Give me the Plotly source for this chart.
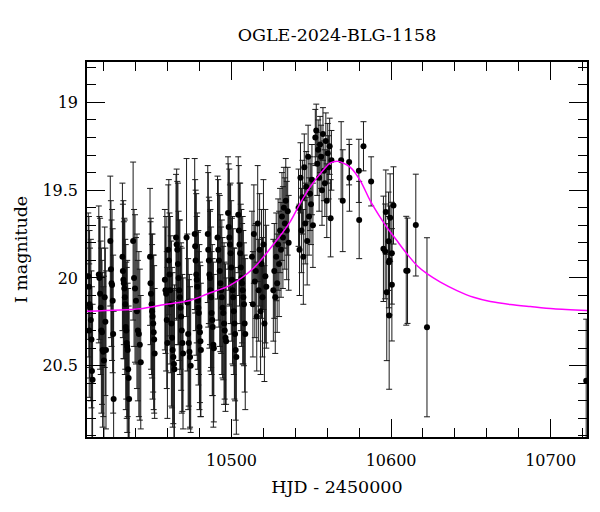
import plotly.graph_objects as go

# ---- observations (HJD - 2450000, I mag, error) ----
hjd_base = [10410.2, 10410.6, 10411.0, 10411.3, 10411.8, 10412.2, 10412.5, 10412.9, 10410.8,
            10416.8, 10417.2, 10417.6, 10418.0, 10418.4, 10418.8, 10419.2, 10419.6, 10420.0, 10420.5, 10420.9, 10421.3,
            10424.0, 10424.4, 10424.8, 10425.1, 10425.5, 10425.8, 10426.1,
            10431.6, 10431.9, 10432.2, 10432.5, 10432.8, 10433.1, 10433.4, 10433.7, 10434.0, 10434.3, 10434.6, 10434.9, 10435.2, 10435.5, 10435.8,
            10438.3, 10438.9, 10439.5, 10440.1, 10440.7, 10441.3, 10441.9, 10442.5, 10443.1,
            10448.9, 10449.2, 10449.5, 10449.9, 10450.2, 10450.5, 10450.9, 10451.2, 10451.5, 10451.8]
mag_base = [19.99, 20.05, 20.15, 20.17, 20.24, 20.35, 20.53, 20.58, 20.30,
            19.98, 20.00, 20.09, 20.17, 20.30, 20.31, 20.41, 20.42, 20.47, 20.11, 20.25, 20.41,
            19.79, 19.95, 20.03, 20.04, 20.13, 20.32, 20.69,
            19.88, 19.96, 20.01, 20.03, 20.06, 20.11, 20.15, 20.28, 20.30, 20.37, 20.39, 20.41, 20.52, 20.57, 20.69,
            19.79, 20.00, 20.06, 20.13, 20.19, 20.30, 20.32, 20.38, 20.48,
            19.88, 20.03, 20.09, 20.15, 20.19, 20.22, 20.26, 20.31, 20.35, 20.43]
err_base = [0.36, 0.40, 0.42, 0.34, 0.46, 0.39, 0.48, 0.43, 0.38,
            0.39, 0.35, 0.43, 0.38, 0.47, 0.41, 0.44, 0.37, 0.48, 0.40, 0.42, 0.45,
            0.37, 0.39, 0.36, 0.43, 0.41, 0.45, 0.50,
            0.42, 0.38, 0.45, 0.35, 0.40, 0.44, 0.37, 0.47, 0.39, 0.43, 0.49, 0.38, 0.46, 0.41, 0.50,
            0.45, 0.39, 0.42, 0.36, 0.44, 0.40, 0.47, 0.43, 0.38,
            0.39, 0.35, 0.43, 0.40, 0.38, 0.47, 0.39, 0.44, 0.42, 0.37]

hjd_mid = [10458.2, 10458.6, 10459.0, 10459.4, 10459.8, 10460.3, 10460.7, 10461.1, 10461.5, 10461.9, 10462.3, 10462.7, 10463.1, 10463.5, 10463.9, 10464.2,
           10465.2, 10465.6, 10466.0, 10466.4, 10466.8, 10467.2, 10467.6, 10468.0, 10468.4, 10468.8, 10469.2, 10469.6,
           10471.8, 10472.3, 10472.8, 10473.2, 10473.6, 10474.0, 10474.4,
           10476.9, 10477.2, 10477.5, 10477.9, 10478.2, 10478.5, 10478.9, 10479.2, 10479.5, 10479.9, 10480.2, 10480.5, 10480.8,
           10485.1, 10485.4, 10485.8, 10486.1, 10486.5, 10486.8, 10487.2, 10487.5, 10487.9, 10488.2, 10488.6, 10488.9,
           10491.2, 10491.7, 10492.1, 10492.6, 10493.0, 10493.5, 10493.9, 10494.4, 10494.8, 10495.3, 10495.7, 10496.2, 10496.6,
           10497.8, 10498.2, 10498.6, 10499.0, 10499.4, 10499.8, 10500.2, 10500.6, 10501.0, 10501.4, 10501.8, 10502.2, 10502.6, 10503.0,
           10504.2, 10504.6, 10505.0, 10505.4, 10505.8, 10506.2, 10506.6, 10507.0, 10507.4, 10507.8, 10508.2, 10508.6]
mag_mid = [20.01, 20.07, 20.09, 20.24, 20.37, 19.84, 19.90, 19.98, 20.07, 20.15, 20.26, 20.34, 20.41, 20.45, 20.49, 20.52,
           19.77, 19.81, 19.84, 19.92, 20.00, 20.07, 20.11, 20.17, 20.22, 20.30, 20.37, 20.43,
           19.77, 20.14, 20.32, 20.37, 20.42, 20.45, 20.50,
           19.75, 19.82, 19.90, 19.98, 20.01, 20.05, 20.13, 20.17, 20.20, 20.28, 20.31, 20.36, 20.41,
           19.75, 19.84, 19.90, 19.98, 20.00, 20.07, 20.11, 20.20, 20.24, 20.28, 20.38, 20.40,
           19.77, 19.84, 19.90, 19.96, 20.03, 20.07, 20.11, 20.17, 20.20, 20.26, 20.30, 20.34, 20.36,
           19.63, 19.71, 19.77, 19.81, 19.86, 19.94, 20.01, 20.07, 20.11, 20.19, 20.26, 20.32, 20.41, 20.45,
           19.64, 19.73, 19.81, 19.86, 19.94, 20.00, 20.03, 20.07, 20.11, 20.15, 20.26, 20.32]
err_mid = [0.40, 0.36, 0.44, 0.39, 0.43, 0.37, 0.46, 0.35, 0.42, 0.39, 0.47, 0.40, 0.44, 0.38, 0.43, 0.48,
           0.36, 0.43, 0.39, 0.46, 0.38, 0.40, 0.44, 0.35, 0.42, 0.47, 0.39, 0.43,
           0.45, 0.39, 0.43, 0.36, 0.44, 0.40, 0.38,
           0.43, 0.38, 0.40, 0.46, 0.36, 0.42, 0.39, 0.44, 0.35, 0.47, 0.40, 0.43, 0.38,
           0.39, 0.44, 0.36, 0.42, 0.38, 0.46, 0.40, 0.35, 0.43, 0.39, 0.47, 0.42,
           0.35, 0.40, 0.38, 0.43, 0.39, 0.36, 0.44, 0.40, 0.38, 0.46, 0.39, 0.42, 0.36,
           0.32, 0.36, 0.39, 0.34, 0.40, 0.38, 0.35, 0.42, 0.39, 0.36, 0.43, 0.38, 0.40, 0.44,
           0.33, 0.37, 0.35, 0.40, 0.36, 0.39, 0.34, 0.42, 0.38, 0.35, 0.39, 0.43]

hjd_rise = [10512.8, 10513.4, 10514.0, 10514.6, 10515.2, 10515.8, 10516.4, 10517.0, 10517.6, 10518.2, 10518.8, 10519.4, 10520.0, 10520.6, 10521.2, 10521.8,
            10526.2, 10526.8, 10527.4, 10528.0, 10528.6, 10529.2, 10529.8, 10530.4, 10531.0, 10531.6, 10532.2, 10532.8, 10533.4, 10534.0, 10534.6, 10535.2, 10535.8,
            10542.0, 10542.6, 10543.2, 10543.8, 10544.4, 10545.0, 10545.6, 10546.2, 10546.8, 10547.4, 10548.0, 10548.6, 10549.2, 10549.8, 10550.4, 10551.0]
mag_rise = [19.88, 20.15, 19.75, 20.02, 19.96, 20.22, 19.69, 20.07, 19.84, 20.19, 19.92, 20.11, 19.81, 20.26, 19.99, 20.05,
            20.07, 19.96, 20.11, 19.88, 20.03, 19.81, 19.92, 19.73, 19.84, 19.65, 19.77, 19.60, 19.69, 19.56, 19.73, 19.62, 19.80,
            19.60, 19.84, 19.43, 19.73, 19.54, 19.88, 19.37, 19.69, 19.48, 19.79, 19.31, 19.65, 19.52, 19.58, 19.44, 19.70]
err_rise = [0.26, 0.30, 0.28, 0.32, 0.27, 0.31, 0.33, 0.29, 0.32, 0.36, 0.31, 0.34, 0.37, 0.33, 0.38, 0.35,
            0.29, 0.27, 0.32, 0.25, 0.28, 0.26, 0.30, 0.24, 0.27, 0.25, 0.29, 0.23, 0.26, 0.24, 0.28, 0.25, 0.27,
            0.22, 0.26, 0.20, 0.24, 0.21, 0.27, 0.19, 0.23, 0.20, 0.25, 0.18, 0.22, 0.21, 0.23, 0.20, 0.24]

hjd_peak = [10552.5, 10553.1, 10553.7, 10554.3, 10554.9, 10555.5, 10556.1, 10556.7, 10557.3, 10557.9, 10558.5, 10559.1, 10559.7, 10560.3, 10560.9, 10561.5, 10562.1, 10562.6,
            10568.7, 10569.7, 10573.7, 10573.9, 10579.8, 10580.0, 10582.7, 10587.5]
mag_peak = [19.20, 19.16, 19.35, 19.27, 19.43, 19.24, 19.31, 19.50, 19.18, 19.39, 19.46, 19.22, 19.56, 19.29, 19.37, 19.25, 19.66, 19.33,
            19.33, 19.56, 19.34, 19.43, 19.39, 19.67, 19.25, 19.45]
err_peak = [0.16, 0.15, 0.18, 0.17, 0.19, 0.16, 0.18, 0.20, 0.15, 0.17, 0.19, 0.16, 0.21, 0.17, 0.18, 0.16, 0.22, 0.17,
            0.22, 0.29, 0.13, 0.19, 0.18, 0.22, 0.14, 0.14]

hjd_tail = [10596.7, 10599.4, 10601.5, 10598.4, 10595.2, 10596.3, 10600.5, 10599.0, 10598.6, 10600.5, 10597.3, 10598.8,
            10609.5, 10610.3, 10615.5, 10622.5, 10722.3]
mag_tail = [19.625, 19.657, 19.587, 19.791, 19.834, 19.849, 19.859, 19.900, 19.910, 20.039, 20.081, 20.214,
            19.959, 19.959, 19.699, 20.281, 20.585]
err_tail = [0.24, 0.25, 0.22, 0.28, 0.30, 0.27, 0.29, 0.31, 0.26, 0.32, 0.39, 0.42,
            0.31, 0.30, 0.29, 0.51, 0.35]

# ---- model light curve ----
model_hjd = [10409.4, 10442.5, 10458.2, 10473.9, 10485.2, 10499.0, 10513.4, 10524.1, 10536.6, 10542.9,
             10549.2, 10557.4, 10561.8, 10567.0, 10574.3, 10580.6, 10586.9, 10593.1, 10597.3, 10603.6,
             10609.9, 10616.2, 10622.5, 10630.9, 10641.3, 10651.7, 10662.2, 10674.8, 10687.3, 10701.8, 10722.9]
model_mag = [20.190, 20.176, 20.151, 20.129, 20.090, 20.042, 19.948, 19.834, 19.682, 19.577,
             19.483, 19.387, 19.346, 19.336, 19.369, 19.444, 19.560, 19.654, 19.711, 19.787,
             19.862, 19.929, 19.976, 20.024, 20.072, 20.110, 20.134, 20.151, 20.163, 20.176, 20.186]

xtick_vals = [10500, 10600, 10700]
ytick_vals = [19, 19.5, 20, 20.5]

hjd = hjd_base + hjd_mid + hjd_rise + hjd_peak + hjd_tail
mag = mag_base + mag_mid + mag_rise + mag_peak + mag_tail
err = err_base + err_mid + err_rise + err_peak + err_tail

FONT = "DejaVu Serif"
W, H = 592, 504

fig = go.Figure()
fig.add_trace(go.Scatter(
    x=hjd, y=mag, mode="markers",
    marker=dict(color="black", size=6),
    error_y=dict(type="data", array=err, visible=True, color="#1a1a1a", thickness=1, width=3),
    showlegend=False,
))
fig.add_trace(go.Scatter(
    x=model_hjd, y=model_mag, mode="lines",
    line=dict(color="#ff00ff", width=1.5, shape="spline", smoothing=0.8),
    showlegend=False,
))

axis_common = dict(
    showgrid=False, zeroline=False, showline=True, linecolor="black", linewidth=1.5,
    mirror="allticks", ticks="inside", ticklen=18, tickwidth=1, tickcolor="black",
    tickfont=dict(family=FONT, size=16, color="black"), automargin=False,
)
fig.update_xaxes(
    range=[10409.4, 10722.8], tickvals=xtick_vals, ticktext=[str(v) for v in xtick_vals],
    ticklabelstandoff=8,
    minor=dict(dtick=20, tick0=10400, ticks="inside", ticklen=9, tickcolor="black", tickwidth=1),
    title=dict(text="HJD - 2450000", font=dict(family=FONT, size=17.5, color="black"), standoff=12),
    **axis_common,
)
fig.update_yaxes(
    range=[20.906, 18.77], tickvals=ytick_vals, ticktext=["19", "19.5", "20", "20.5"],
    ticklabelstandoff=4,
    minor=dict(dtick=0.1, tick0=18.8, ticks="inside", ticklen=9, tickcolor="black", tickwidth=1),
    title=dict(text="I magnitude", font=dict(family=FONT, size=17.5, color="black"), standoff=10),
    **axis_common,
)
fig.update_layout(
    width=W, height=H,
    margin=dict(l=79, r=13, t=54, b=75),
    paper_bgcolor="white", plot_bgcolor="white",
    title=dict(text="OGLE-2024-BLG-1158", x=0.5, xref="paper", y=1 - 27 / H, yref="container",
               yanchor="middle", font=dict(family=FONT, size=17.5, color="black")),
)
fig.write_html("out.html")
